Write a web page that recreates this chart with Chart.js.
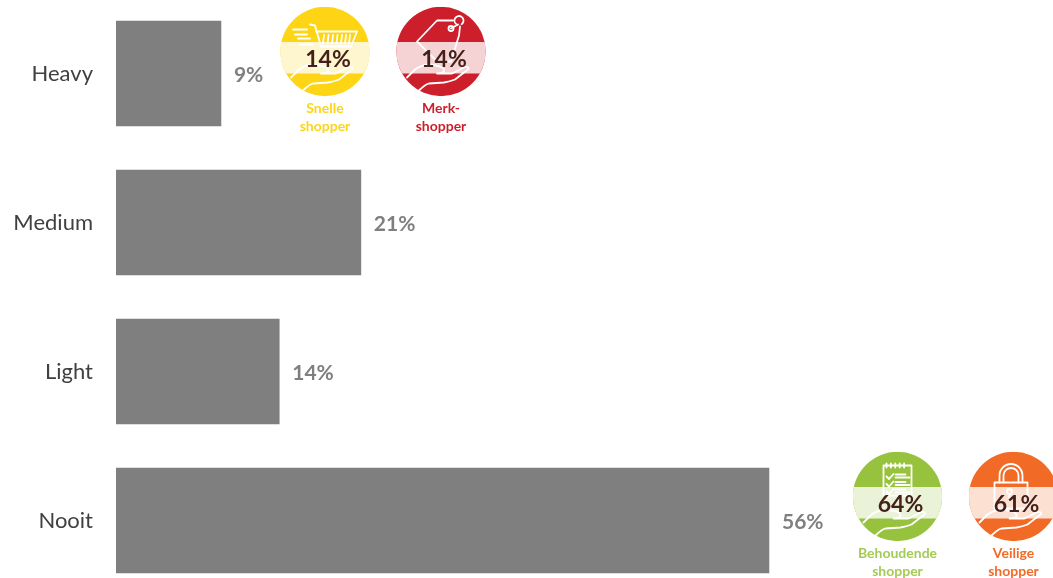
<!DOCTYPE html>
<html>
<head>
<meta charset="utf-8">
<script src="https://cdn.jsdelivr.net/npm/chart.js@4"></script>
<style>
  html, body { margin: 0; padding: 0; width: 1053px; height: 578px; overflow: hidden; background: #fff; }
  #frame { position: absolute; left: 0; top: -1px; width: 1053px; height: 596px; }
</style>
</head>
<body>
<div id="frame"><canvas id="chart"></canvas></div>
<script>
// Share of respondents per usage frequency
const categories = ['Heavy', 'Medium', 'Light', 'Nooit'];
const shareValues = [9, 21, 14, 56];

// Shopper types called out next to a frequency row
const badgeRows = ['Heavy', 'Heavy', 'Nooit', 'Nooit'];
const badgeValues = [14, 14, 64, 61];
const badgeNames = [['Snelle', 'shopper'], ['Merk-', 'shopper'], ['Behoudende', 'shopper'], ['Veilige', 'shopper']];
const badgeIcons = ['cart', 'tag', 'list', 'lock'];

// Badge appearance
const badgeCentres = [325, 441, 897.5, 1013.5];
const badgeLift = [22, 22, 24, 24];
const badgeFill = ['#FDD515', '#CC1F2B', '#97C23D', '#F26B26'];
const badgeBand = ['#FEF6CF', '#F5D2D4', '#EAF3D8', '#FCE1D3'];
const labelFill = ['#FDD515', '#CC1F2B', '#A5CB55', '#F26B26'];

const FONT = 'Lato, Carlito, Calibri, sans-serif';
const GREY = '#7F7F7F';

function polyline(ctx, pts, close) {
  ctx.beginPath();
  pts.forEach((p, i) => i ? ctx.lineTo(p[0], p[1]) : ctx.moveTo(p[0], p[1]));
  if (close) ctx.closePath();
  ctx.stroke();
}

// Open hand shared by every badge, in pixels around the badge centre
function drawHand(ctx) {
  ctx.beginPath();
  ctx.moveTo(-34, 26);
  ctx.lineTo(-26, 18);
  ctx.quadraticCurveTo(-19, 13, -10, 13);
  ctx.lineTo(-1, 15);
  ctx.quadraticCurveTo(4, 17, 3, 20);
  ctx.quadraticCurveTo(1, 22, -4, 22);
  ctx.lineTo(11, 22);
  ctx.lineTo(24, 15.5);
  ctx.quadraticCurveTo(28, 15, 27.5, 17.5);
  ctx.lineTo(14, 28);
  ctx.quadraticCurveTo(9, 30, 3, 31);
  ctx.lineTo(-12, 32);
  ctx.quadraticCurveTo(-16, 33, -22, 39);
  ctx.stroke();
}

const iconPainters = {
  cart(ctx) {
    polyline(ctx, [[-15, -27], [-10, -26], [-4, -5], [26, -5], [32, -20], [-9, -20]]);
    [-1, 3.5, 8, 12.5, 17, 21, 25].forEach(x => polyline(ctx, [[x, -16.5], [x - 1, -8]]));
    polyline(ctx, [[-32, -22], [-18, -22]]);
    polyline(ctx, [[-30, -17], [-18, -17]]);
    polyline(ctx, [[-27, -13], [-15, -13]]);
    polyline(ctx, [[-25, -7], [-12, -7]]);
  },
  tag(ctx) {
    polyline(ctx, [[12, -31], [-4, -31], [-24, -10], [-4, 10], [10, 10], [18, -16], [19, -25]]);
    ctx.beginPath(); ctx.arc(10, -23, 2.5, 0, Math.PI * 2); ctx.stroke();
    ctx.beginPath(); ctx.arc(18, -31, 4.5, Math.PI * 0.7, Math.PI * 2.3); ctx.stroke();
    polyline(ctx, [[10, -23], [17, -27]]);
  },
  list(ctx) {
    ctx.strokeRect(-14, -31, 28, 30);
    for (let x = -11; x <= 11; x += 4.4) polyline(ctx, [[x, -33], [x, -29]]);
    [-20, -12.5, -5].forEach(y => {
      polyline(ctx, [[-11, y], [-8.5, y + 2.5], [-4, y - 2.5]]);
      polyline(ctx, [[-2, y - 2], [8, y - 2]]);
      polyline(ctx, [[-2, y + 1], [12, y + 1]]);
    });
  },
  lock(ctx) {
    ctx.strokeRect(-19, -14, 33, 26);
    ctx.beginPath(); ctx.moveTo(-14, -14); ctx.lineTo(-14, -21);
    ctx.arc(-2.5, -21, 11.5, Math.PI, 0); ctx.lineTo(9, -14); ctx.stroke();
    ctx.beginPath(); ctx.moveTo(-10, -14); ctx.lineTo(-10, -21);
    ctx.arc(-2.5, -21, 7.5, Math.PI, 0); ctx.lineTo(5, -14); ctx.stroke();
    ctx.beginPath(); ctx.arc(-4, -5, 2.5, 0, Math.PI * 2); ctx.stroke();
    polyline(ctx, [[-4, -2.5], [-4, 3]]);
  }
};

// Value labels at the bar ends and the shopper badges
const annotations = {
  id: 'annotations',
  afterDatasetsDraw(chart) {
    const { ctx } = chart;
    const yScale = chart.scales.y;
    const bars = chart.getDatasetMeta(0).data;

    ctx.save();
    ctx.textBaseline = 'middle';
    ctx.textAlign = 'left';
    ctx.fillStyle = GREY;
    ctx.font = 'bold 21px ' + FONT;
    shareValues.forEach((v, i) => {
      ctx.fillText(v + '%', bars[i].x + 13, bars[i].y + 2);
    });

    badgeValues.forEach((v, i) => {
      const cx = badgeCentres[i];
      const cy = yScale.getPixelForValue(categories.indexOf(badgeRows[i])) - badgeLift[i];
      const r = 44.7;

      ctx.save();
      ctx.beginPath();
      ctx.arc(cx, cy, r, 0, Math.PI * 2);
      ctx.clip();
      ctx.fillStyle = badgeFill[i];
      ctx.fillRect(cx - r, cy - r, r * 2, r * 2);
      ctx.fillStyle = badgeBand[i];
      ctx.fillRect(cx - r, cy - 9.5, r * 2, 31.5);
      ctx.restore();

      ctx.save();
      ctx.translate(cx, cy);
      ctx.strokeStyle = '#FFFFFF';
      ctx.lineWidth = 1.8;
      ctx.lineJoin = 'round';
      ctx.lineCap = 'round';
      iconPainters[badgeIcons[i]](ctx);
      drawHand(ctx);
      ctx.restore();

      ctx.textAlign = 'center';
      ctx.fillStyle = '#43201A';
      ctx.font = 'bold 23px ' + FONT;
      ctx.fillText(v + '%', cx + 3, cy + 8.5);

      ctx.fillStyle = labelFill[i];
      ctx.font = 'bold 14px ' + FONT;
      badgeNames[i].forEach((line, k) => ctx.fillText(line, cx, cy + 57 + k * 18));
      ctx.textAlign = 'left';
    });
    ctx.restore();
  }
};

new Chart(document.getElementById('chart'), {
  type: 'bar',
  data: {
    labels: categories,
    datasets: [{
      data: shareValues,
      backgroundColor: GREY,
      borderWidth: 0,
      barThickness: 105
    }]
  },
  options: {
    indexAxis: 'y',
    responsive: true,
    maintainAspectRatio: false,
    animation: false,
    layout: { padding: 0 },
    plugins: { legend: { display: false }, tooltip: { enabled: false } },
    scales: {
      x: { display: false, min: 0, max: 80.36 },
      y: {
        // Fixed gutter for the row names, and no extra room above or below the rows
        afterFit(scale) {
          scale.width = 116;
          scale.paddingTop = 0;
          scale.paddingBottom = 0;
        },
        grid: { display: false, drawTicks: false },
        border: { display: false },
        ticks: {
          color: '#404040',
          padding: 23,
          font: { family: FONT, size: 22 }
        }
      }
    }
  },
  plugins: [annotations]
});
</script>
</body>
</html>
